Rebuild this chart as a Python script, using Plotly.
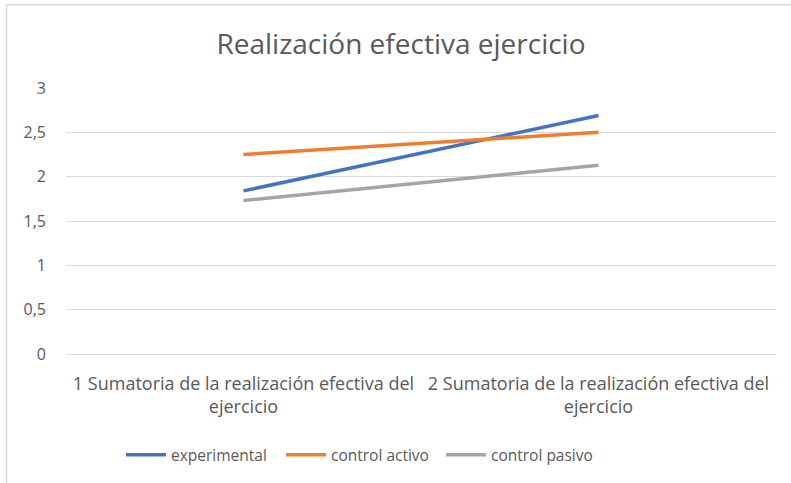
import plotly.graph_objects as go

categories = ["1 Sumatoria de la realización efectiva del<br>ejercicio",
              "2 Sumatoria de la realización efectiva del<br>ejercicio"]
series_names = ["experimental", "control activo", "control pasivo"]
experimental = [1.84, 2.69]
control_activo = [2.25, 2.50]
control_pasivo = [1.73, 2.13]
y_ticks = [0, 0.5, 1, 1.5, 2, 2.5, 3]
y_tick_labels = ["0", "0,5", "1", "1,5", "2", "2,5", "3"]

colors = ["#4472C4", "#ED7D31", "#A5A5A5"]
txt = "#595959"
font = "Open Sans"

fig = go.Figure()
for name, vals, c in zip(series_names, [experimental, control_activo, control_pasivo], colors):
    fig.add_trace(go.Scatter(x=categories, y=vals, mode="lines", name=name,
                             line=dict(color=c, width=3.5)))

fig.update_layout(
    width=791, height=483,
    paper_bgcolor="white", plot_bgcolor="white",
    margin=dict(l=66, r=15, t=88, b=128),
    title=dict(text="Realización efectiva ejercicio", x=401 / 791, xanchor="center",
               y=1 - 44 / 483, yanchor="middle", yref="container", xref="container",
               font=dict(family=font, size=28, color=txt)),
    showlegend=True,
    legend=dict(orientation="h", x=(121 - 66) / 710, xanchor="left", y=-0.375, yanchor="middle",
                font=dict(family=font, size=15.5, color=txt), itemwidth=40,
                entrywidth=105, entrywidthmode="pixels",
                traceorder="normal"),
    separators=", ",
)
fig.update_xaxes(type="category", range=[-0.5, 1.5], showgrid=False, showline=False,
                 zeroline=False, ticks="", ticklabelstandoff=17,
                 tickfont=dict(family=font, size=18, color=txt))
fig.update_yaxes(range=[0, 3], tickvals=y_ticks, ticktext=y_tick_labels,
                 showgrid=True, gridcolor="#D9D9D9", gridwidth=1,
                 zeroline=True, zerolinecolor="#D9D9D9", zerolinewidth=1,
                 showline=False, ticks="", ticklabelstandoff=19,
                 tickfont=dict(family=font, size=16, color=txt))

fig.add_shape(type="rect", xref="paper", yref="paper",
              x0=(6.5 - 66) / 710, x1=(800 - 66) / 710,
              y0=(355 - 490) / 267, y1=(355 - 4.5) / 267,
              line=dict(color="#D9D9D9", width=1.5), fillcolor="rgba(0,0,0,0)",
              layer="below")

fig.write_html("out.html", config={"displayModeBar": False},
               post_script="document.body.style.margin='0px';")
